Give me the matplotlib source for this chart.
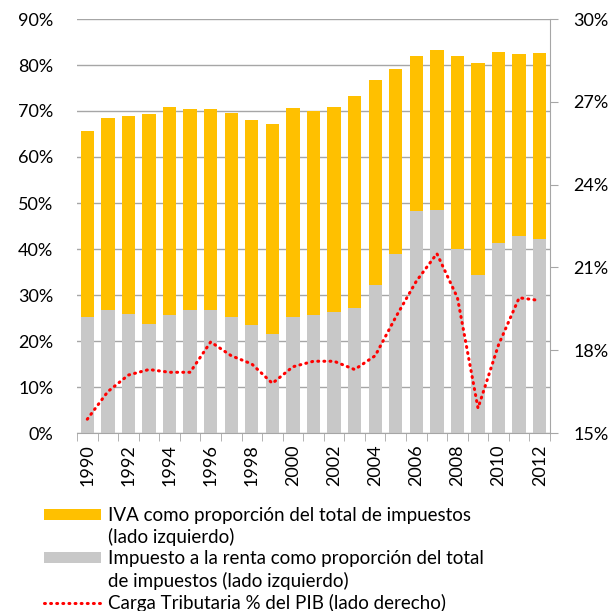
import numpy as np
import matplotlib
matplotlib.use("Agg")
import matplotlib.pyplot as plt
from matplotlib.patches import Patch
from matplotlib.lines import Line2D

# Values (percent)
years = list(range(1990, 2013))
renta = [25.2, 26.7, 25.8, 23.7, 25.6, 26.7, 26.8, 25.3, 23.4, 21.6, 25.3, 25.6,
         26.2, 27.2, 32.2, 38.9, 48.3, 48.5, 39.9, 34.3, 41.2, 42.8, 42.2]
total = [65.7, 68.5, 69.0, 69.3, 70.9, 70.4, 70.4, 69.6, 68.0, 67.1, 70.7, 69.9,
         70.9, 73.3, 76.7, 79.2, 82.0, 83.2, 82.0, 80.4, 82.9, 82.4, 82.6]
iva = [t - r for t, r in zip(total, renta)]
carga = [15.5, 16.5, 17.1, 17.3, 17.2, 17.2, 18.3, 17.8, 17.5, 16.8, 17.4, 17.6,
         17.6, 17.3, 17.8, 19.2, 20.5, 21.5, 19.9, 15.9, 18.2, 19.9, 19.8]

left_ticks = list(range(0, 91, 10))
right_ticks = list(range(15, 31, 3))

labels = ["IVA como proporción del total de impuestos",
          "(lado izquierdo)",
          "Impuesto a la renta como proporción del total",
          "de impuestos (lado izquierdo)",
          "Carga Tributaria % del PIB (lado derecho)"]

plt.rcParams['font.family'] = ['Lato', 'DejaVu Sans']

W, H = 616, 611
fig = plt.figure(figsize=(W / 100, H / 100), dpi=100)
ax = fig.add_axes([77 / W, 1 - 433 / H, 473 / W, 414 / H])

x = np.arange(len(years))
yellow = "#FFC000"
gray = "#C8C8C8"

ax.set_axisbelow(True)
ax.yaxis.grid(True, color="#A6A6A6", linewidth=1)
ax.bar(x, renta, width=0.65, color=gray, zorder=2)
ax.bar(x, iva, width=0.65, bottom=renta, color=yellow, zorder=2)

ax.set_xlim(-0.5, len(years) - 0.5)
ax.set_ylim(0, 90)
ax.set_yticks(left_ticks)
ax.set_yticklabels([f"{v}%" for v in left_ticks], fontsize=13)
ax.tick_params(axis="y", length=0, pad=17)

ax.set_xticks(x[::2])
ax.set_xticklabels([str(y) for y in years[::2]], rotation=90, fontsize=13)
ax.set_xticks(np.arange(-0.5, len(years), 1), minor=True)
ax.tick_params(axis="x", which="major", length=0, pad=8)
ax.tick_params(axis="x", which="minor", length=6, color="#A6A6A6")

for s in ["left", "top", "right"]:
    ax.spines[s].set_visible(False)
ax.spines["bottom"].set_color("#A6A6A6")

ax2 = ax.twinx()
ax2.plot(x, carga, color="red", linewidth=2.2, linestyle=(0, (0.3, 1.7)),
         dash_capstyle="round", zorder=3)
ax2.set_ylim(15, 30)
ax2.set_yticks(right_ticks)
ax2.set_yticklabels([f"{v}%" for v in right_ticks], fontsize=13)
ax2.tick_params(axis="y", length=6, pad=11, color="#A6A6A6")
for s in ["left", "top", "bottom"]:
    ax2.spines[s].set_visible(False)
ax2.spines["right"].set_color("#A6A6A6")

blank = Patch(facecolor="none", edgecolor="none")
handles = [Patch(facecolor=yellow, edgecolor="none"), blank,
           Patch(facecolor=gray, edgecolor="none"), blank,
           Line2D([], [], color="red", linewidth=2.2, linestyle=(0, (0.3, 1.7)),
                  dash_capstyle="round")]
fig.legend(handles, labels, loc="upper left", bbox_to_anchor=(44 / W, 1 - 507 / H),
           frameon=False, fontsize=13.5, handlelength=3.05, handleheight=0.55,
           handletextpad=0.37, labelspacing=0.22, borderpad=0, borderaxespad=0)

fig.savefig("out.png", dpi=100)
